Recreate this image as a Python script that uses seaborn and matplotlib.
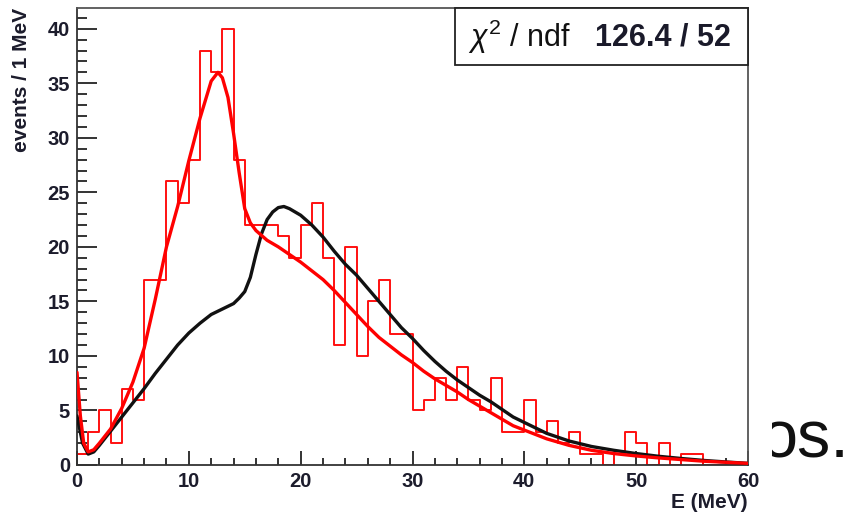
import numpy as np
import pandas as pd
import matplotlib
matplotlib.use("Agg")
import matplotlib.pyplot as plt
import seaborn as sns
from matplotlib.ticker import MultipleLocator
from matplotlib.patches import Rectangle

# ---------------- data ----------------
bin_edges = list(range(0, 61))
counts = [1, 3, 5, 2, 7, 6, 17, 17, 26, 24,
          28, 38, 36, 40, 28, 22, 22, 22, 21, 19,
          22, 24, 19, 11, 20, 10, 15, 17, 12, 12,
          5, 6, 8, 6, 9, 6, 5, 8, 3, 3,
          6, 3, 4, 2, 3, 1, 1, 0, 1, 3,
          2, 0, 2, 0, 1, 1, 0, 0, 0, 0]

red_x = [0, 0.3, 0.6, 1.0, 1.5, 2, 3, 4, 5, 6, 7, 8, 9, 10, 11, 12, 12.6, 13, 13.5,
         14, 14.5, 15, 15.5, 16, 17, 18, 19, 20, 21, 22, 23, 24, 25, 26, 27, 28, 29,
         30, 31, 32, 33, 34, 35, 36, 37, 38, 39, 40, 42, 44, 46, 48, 50, 52, 54, 56, 58, 60]
red_y = [8.5, 4.5, 2.0, 1.2, 1.4, 2.0, 3.3, 5.2, 7.6, 10.7, 15.2, 20.0, 23.7, 27.9, 31.8, 35.2, 36.0, 35.5, 33.7,
         30.4, 26.8, 23.5, 22.2, 21.5, 20.6, 20.0, 19.3, 18.6, 17.8, 17.0, 16.0, 14.9, 13.8, 12.7, 11.7, 10.9, 10.1,
         9.4, 8.6, 7.9, 7.3, 6.7, 6.0, 5.4, 4.8, 4.2, 3.6, 3.2, 2.4, 1.8, 1.35, 1.05, 0.83, 0.65, 0.5, 0.35, 0.25, 0.15]

black_x = [0, 0.5, 1.0, 1.5, 2, 3, 4, 5, 6, 7, 8, 9, 10, 11, 12, 13, 14, 14.5, 15, 15.5,
           16, 16.5, 17, 17.5, 18, 18.5, 19, 20, 21, 22, 23, 24, 25, 26, 27, 28, 29, 30,
           31, 32, 33, 34, 35, 36, 37, 38, 39, 40, 42, 44, 46, 48, 50, 52, 54, 56, 58, 60]
black_y = [4.5, 2.0, 1.0, 1.2, 1.8, 3.1, 4.4, 5.7, 7.0, 8.4, 9.7, 11.0, 12.1, 13.0, 13.8, 14.3, 14.8, 15.3, 15.9, 17.2,
           19.3, 21.2, 22.5, 23.2, 23.6, 23.7, 23.5, 22.9, 22.0, 20.9, 19.6, 18.4, 17.4, 16.2, 15.0, 13.8, 12.6, 11.6,
           10.5, 9.5, 8.6, 7.8, 7.1, 6.4, 5.8, 5.1, 4.4, 3.9, 2.9, 2.2, 1.7, 1.35, 1.05, 0.8, 0.6, 0.42, 0.28, 0.15]

x_label = "E (MeV)"
y_label = "events / 1 MeV"
stat_name = r"$\chi^{2}$ / ndf"
stat_value = "126.4 / 52"
side_text = "os."

# ---------------- style ----------------
sns.set_style("ticks")
plt.rcParams["font.family"] = ["Liberation Sans", "DejaVu Sans"]
plt.rcParams["mathtext.fontset"] = "custom"
plt.rcParams["mathtext.rm"] = "Liberation Sans"
plt.rcParams["mathtext.it"] = "Liberation Sans:italic"

W, H = 845, 512
fig = plt.figure(figsize=(W / 100, H / 100), dpi=100)
fig.patch.set_facecolor("white")
ax = fig.add_axes([77 / W, 1 - 465 / H, (748 - 77) / W, (465 - 8) / H])
ax.set_facecolor("white")

centers = [e + 0.5 for e in bin_edges[:-1]]
hist_df = pd.DataFrame({"E": centers, "n": counts})
sns.histplot(data=hist_df, x="E", weights="n", bins=bin_edges, element="step",
             fill=False, color="#ff1010", linewidth=1.4, ax=ax, zorder=2)

sns.lineplot(x=black_x, y=black_y, color="#111111", linewidth=2.4, ax=ax,
             estimator=None, sort=False, zorder=3)
sns.lineplot(x=red_x, y=red_y, color="#ff0000", linewidth=2.4, ax=ax,
             estimator=None, sort=False, zorder=4)

ax.set_xlim(0, 60)
ax.set_ylim(0, 41.9)
ax.set_xlabel("")
ax.set_ylabel("")

ax.xaxis.set_major_locator(MultipleLocator(10))
ax.xaxis.set_minor_locator(MultipleLocator(2))
ax.yaxis.set_major_locator(MultipleLocator(5))
ax.yaxis.set_minor_locator(MultipleLocator(1))

lab_col = "#1c1c2c"
ax.tick_params(axis="x", which="major", direction="in", length=10, width=1.2,
               labelsize=14.5, pad=5, colors="#111111", labelcolor=lab_col)
ax.tick_params(axis="x", which="minor", direction="in", length=5, width=1.2, colors="#111111")
ax.tick_params(axis="y", which="major", direction="in", length=14.5, width=1.2,
               labelsize=14.5, pad=5, colors="#111111", labelcolor=lab_col)
ax.tick_params(axis="y", which="minor", direction="in", length=7.2, width=1.2, colors="#111111")
for lbl in ax.get_xticklabels() + ax.get_yticklabels():
    lbl.set_fontweight("bold")

for side, sp in ax.spines.items():
    sp.set_visible(True)
    sp.set_linewidth(1.3)
    sp.set_color("#333333" if side in ("left", "bottom") else "#555555")

# stats box
ax.add_patch(Rectangle((0.563, 0.875), 0.437, 0.125, transform=ax.transAxes,
                       facecolor="white", edgecolor="#222222", linewidth=1.3,
                       zorder=6, clip_on=False))
ax.text(0.660, 0.937, stat_name, transform=ax.transAxes, fontsize=22,
        ha="center", va="center", color="#111111", zorder=7)
ax.text(0.873, 0.935, stat_value, transform=ax.transAxes, fontsize=22,
        fontweight="bold", ha="center", va="center", color="#1a1a2a", zorder=7)

# axis titles
fig.text(22 / W, 1 - 8 / H, y_label, rotation=90, ha="center", va="top",
         fontsize=15, fontweight="bold", color=lab_col)
fig.text(748 / W, 1 - 508 / H, x_label, ha="right", va="baseline",
         fontsize=15, fontweight="bold", color=lab_col)

# partially hidden text on the right (left part of the first letter is covered)
fig.text(760 / W, 1 - 458 / H, side_text, ha="left", va="baseline",
         fontsize=48, color="#111111", zorder=3)
fig.patches.append(Rectangle((751 / W, 1 - 463 / H), (772 - 751) / W, (463 - 380) / H,
                             transform=fig.transFigure, facecolor="white",
                             edgecolor="none", zorder=10))

fig.savefig("out.png", dpi=100)
